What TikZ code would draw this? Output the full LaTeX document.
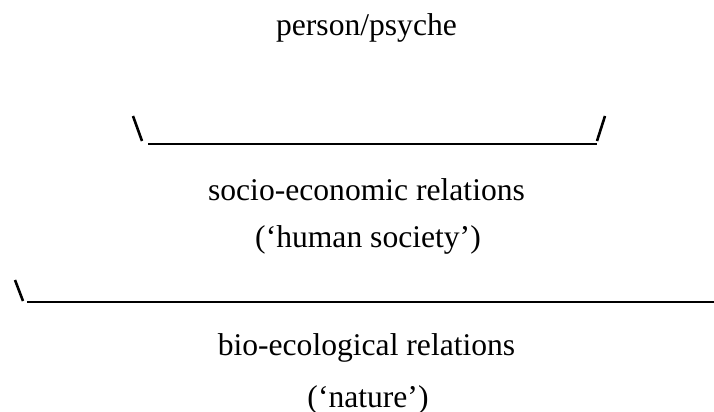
\documentclass[tikz,border=0pt]{standalone}
\usepackage{fontspec}
\setmainfont{Liberation Serif}
\usepackage{tikz}

\begin{document}
\begin{tikzpicture}[x=0.5pt,y=-0.5pt,
    lbl/.style={anchor=base,inner sep=0pt,font=\fontsize{15.8}{19}\selectfont}]
            \useasboundingbox (0,0) rectangle (714,412);
            % \draw[step=50,color=gray!40] (0,0) grid (714,412);
            \foreach \x/\y/\name/\txt in {366.5/35/psy/{person/psyche},366.5/200/soc/{socio-economic relations},368/248/hum/{(‘human society’)},366.5/355/bio/{bio-ecological relations},368/407/nat/{(‘nature’)}}{
                \node[lbl,name=\name] at (\x,\y) {\txt};
            }
            \foreach \x/\y/\name in {133/116/ta,142/141/tb,148/143.5/tc,597/143.5/td,605/116/te,597/141/tf,15/280/ba,23/301/bb,27/302/bc,714/302/bd}{
                \coordinate (\name) at (\x,\y);
            }
            \foreach \from/\to in {ta/tb,te/tf,ba/bb} {
                \draw[line width=1.3pt] (\from)--(\to) ;
            }
            \foreach \from/\to in {tc/td,bc/bd} {
                \draw[line width=1pt] (\from)--(\to) ;
            }
        \end{tikzpicture}
\end{document}
